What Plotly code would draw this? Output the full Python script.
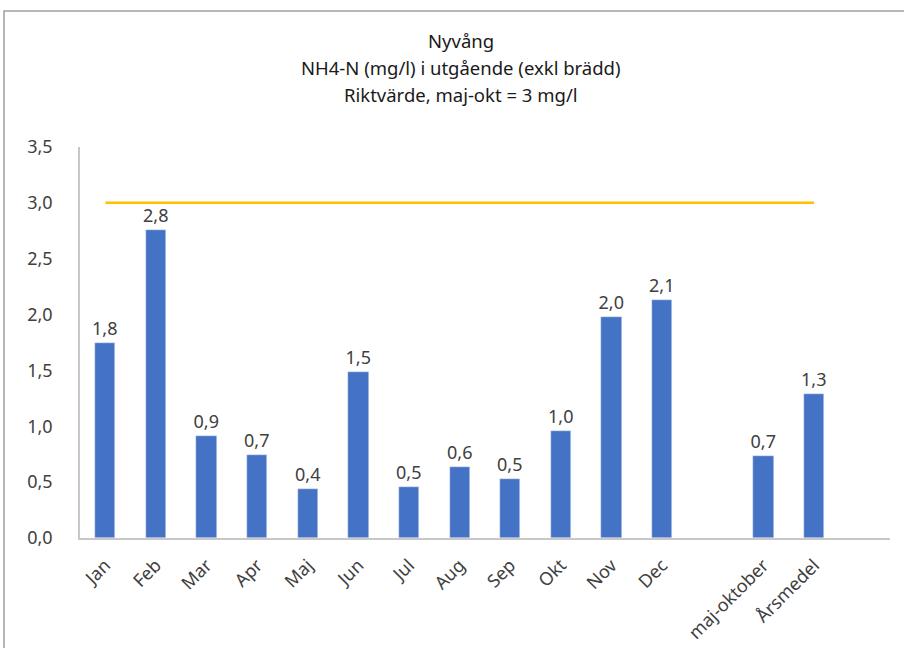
import plotly.graph_objects as go

categories = ["Jan", "Feb", "Mar", "Apr", "Maj", "Jun", "Jul", "Aug", "Sep", "Okt", "Nov", "Dec", "", "maj-oktober", "Årsmedel", ""]
values = [1.75, 2.76, 0.91, 0.74, 0.44, 1.49, 0.46, 0.64, 0.53, 0.96, 1.98, 2.13, None, 0.73, 1.29, None]
riktvarde = [3, 3, 3, 3, 3, 3, 3, 3, 3, 3, 3, 3, 3, 3, 3, None]
y_ticks = [0, 0.5, 1.0, 1.5, 2.0, 2.5, 3.0, 3.5]
title_lines = ["Nyvång", "NH4-N (mg/l) i utgående (exkl brädd)", "Riktvärde, maj-okt = 3 mg/l"]

pos = list(range(len(categories)))
FONT = "Noto Sans"
TXT = "#404040"
L, R, T, B = 80, 14, 147, 110
PW, PH = 904 - L - R, 648 - T - B

fig = go.Figure()
fig.add_trace(go.Bar(
    x=pos, y=values, width=0.4, marker_color="#4472C4",
    texttemplate="%{y:.1f}", textposition="outside",
    textfont=dict(family=FONT, size=18, color=TXT),
    constraintext="none", cliponaxis=False, showlegend=False,
))
fig.add_trace(go.Scatter(
    x=pos, y=riktvarde, mode="lines",
    line=dict(color="#FFC000", width=2.5), showlegend=False,
))

annotations = []
for i, line in enumerate(title_lines):
    yc = 40 + 27 * i
    annotations.append(dict(
        text=line, xref="paper", yref="paper",
        x=(461 - L) / PW, y=(648 - B - yc) / PH,
        xanchor="center", yanchor="middle", showarrow=False,
        font=dict(family=FONT, size=18.5, color="#1a1a1a"),
    ))

fig.update_layout(
    width=904, height=648,
    margin=dict(l=L, r=R, t=T, b=B, autoexpand=False),
    paper_bgcolor="white", plot_bgcolor="white",
    separators=", ",
    font=dict(family=FONT, color=TXT),
    bargap=0,
    annotations=annotations,
    shapes=[dict(
        type="rect", xref="paper", yref="paper",
        x0=(4 - L) / PW, x1=1.05, y0=-0.4, y1=(648 - B - 11) / PH,
        line=dict(color="#A0A0A0", width=1.5), fillcolor="rgba(0,0,0,0)", layer="below",
    )],
)
fig.update_xaxes(
    range=[-0.5, len(categories) - 0.5],
    tickmode="array", tickvals=pos, ticktext=categories,
    tickangle=-45, tickfont=dict(family=FONT, size=18, color=TXT),
    showline=True, linecolor="#C8C8C8", linewidth=1.5, automargin=False,
    showgrid=False, zeroline=False, ticks="", ticklabelstandoff=8,
)
fig.update_yaxes(
    range=[0, 3.5], tickvals=y_ticks, tickformat=".1f",
    tickfont=dict(family=FONT, size=18, color=TXT), automargin=False,
    showline=True, linecolor="#C8C8C8", linewidth=1.5,
    showgrid=False, zeroline=False, ticks="", ticklabelstandoff=22,
)

fig.write_html("out.html", config={"displayModeBar": False},
               post_script="document.body.style.margin='0';document.body.style.overflow='hidden';")
